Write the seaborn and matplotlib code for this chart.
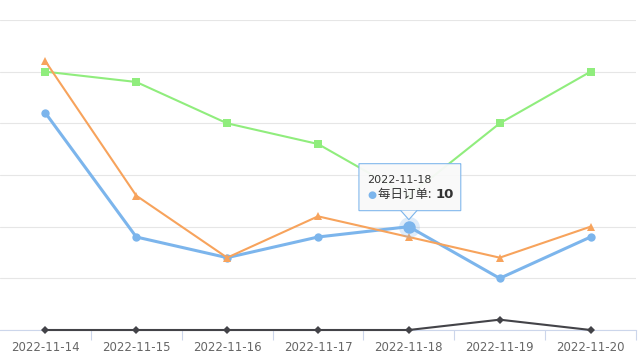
import pandas as pd
import matplotlib.pyplot as plt
import seaborn as sns
from matplotlib.patches import FancyBboxPatch, Polygon

# data
dates = ['2022-11-14', '2022-11-15', '2022-11-16', '2022-11-17',
         '2022-11-18', '2022-11-19', '2022-11-20']
daily_orders = [21, 9, 7, 9, 10, 5, 9]
series_black = [0, 0, 0, 0, 0, 1, 0]
series_green = [25, 24, 20, 18, 13, 20, 25]
series_orange = [26, 13, 7, 11, 9, 7, 10]

sns.set_theme(style="white")
plt.rcParams['font.family'] = ['Noto Sans CJK SC', 'DejaVu Sans']

fig = plt.figure(figsize=(6.4, 3.6), dpi=100)
ax = fig.add_axes([0, 30 / 360, 636 / 640, 310 / 360])

x = list(range(len(dates)))

# highcharts-like series
sns.lineplot(x=x, y=daily_orders, ax=ax, color='#7cb5ec', lw=2.2, marker='o',
             markersize=6, markeredgewidth=0, zorder=3)
sns.lineplot(x=x, y=series_black, ax=ax, color='#434348', lw=1.5, marker='D',
             markersize=4.2, markeredgewidth=0, zorder=3, clip_on=False)
sns.lineplot(x=x, y=series_green, ax=ax, color='#90ed7d', lw=1.5, marker='s',
             markersize=5.6, markeredgewidth=0, zorder=3)
sns.lineplot(x=x, y=series_orange, ax=ax, color='#f7a35c', lw=1.5, marker='^',
             markersize=6, markeredgewidth=0, zorder=3)

ax.set_xlim(-0.5, 6.5)
ax.set_ylim(0, 30)
ax.set_yticks([0, 5, 10, 15, 20, 25, 30])
ax.yaxis.grid(True, color='#e6e6e6', lw=0.8)
ax.set_yticklabels([])
ax.tick_params(axis='y', length=0)

ax.set_xticks(x)
ax.set_xticklabels(dates, color='#666666', fontsize=8.5, family='DejaVu Sans')
ax.set_xticks([i + 0.5 for i in range(len(dates))], minor=True)
ax.tick_params(axis='x', which='major', length=0, pad=8)
ax.tick_params(axis='x', which='minor', length=7, color='#ccd6eb', width=0.8,
               bottom=True)

for s in ['top', 'right', 'left']:
    ax.spines[s].set_visible(False)
ax.spines['bottom'].set_color('#ccd6eb')
ax.spines['bottom'].set_linewidth(0.8)

# hovered point
hx, hy = 4, daily_orders[4]
ax.plot(hx, hy, 'o', color='#7cb5ec', alpha=0.25, markersize=15, zorder=4,
        markeredgewidth=0)
ax.plot(hx, hy, 'o', color='#7cb5ec', markersize=9, zorder=5,
        markeredgewidth=0)

# tooltip
px = 91.0   # pixels per category
py = 310 / 30  # pixels per unit
bx0, bx1 = hx + (360 - 410) / px, hx + (462 - 410) / px
by0, by1 = hy + (227 - 211) / py, hy + (227 - 164) / py
box = FancyBboxPatch((bx0, by0), bx1 - bx0, by1 - by0,
                     boxstyle='round,pad=0,rounding_size=0.03',
                     mutation_aspect=py / px,
                     fc='#f9f9f9', ec='#7cb5ec', lw=0.8, alpha=0.95, zorder=6)
ax.add_patch(box)
tri = Polygon([(hx - 8 / px, by0), (hx + 8 / px, by0), (hx, hy + 7 / py)],
              closed=True, fc='#f9f9f9', ec='none', zorder=7)
ax.add_patch(tri)
ax.plot([hx - 8 / px, hx, hx + 8 / px], [by0, hy + 7 / py, by0],
        color='#7cb5ec', lw=0.8, zorder=7)

ax.text(hx + (368 - 410) / px, hy + (227 - 180) / py, '2022-11-18',
        fontsize=8, color='#333333', va='center', ha='left', zorder=8,
        family='DejaVu Sans')
ax.text(hx + (368 - 410) / px, hy + (227 - 195) / py, '●', fontsize=7.5,
        color='#7cb5ec', va='center', ha='left', zorder=8,
        family='DejaVu Sans')
ax.text(hx + (379 - 410) / px, hy + (227 - 195) / py, '每日订单: ',
        fontsize=9, color='#333333', va='center', ha='left', zorder=8)
ax.text(hx + (437 - 410) / px, hy + (227 - 195) / py, '10',
        fontsize=9.5, color='#333333', va='center', ha='left', zorder=8,
        fontweight='bold', family='DejaVu Sans')

plt.savefig("out.png", dpi=100)
